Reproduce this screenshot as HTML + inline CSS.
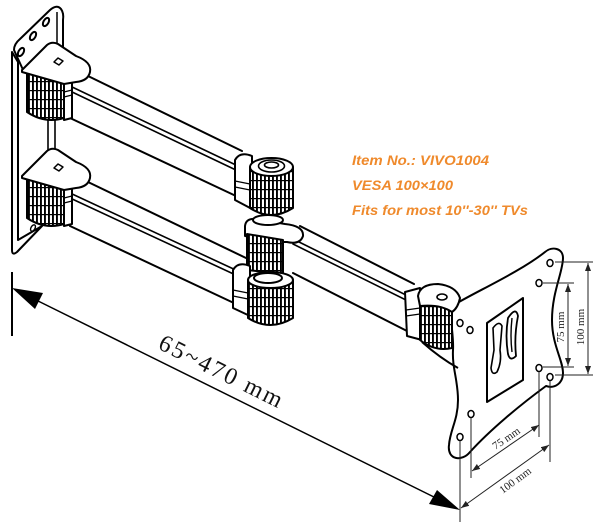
<!DOCTYPE html>
<html><head><meta charset="utf-8">
<style>
html,body{margin:0;padding:0;background:#fff;}
svg{display:block;}
</style></head><body>
<svg width="600" height="526" viewBox="0 0 600 526" xmlns="http://www.w3.org/2000/svg">
<defs>
<pattern id="k" patternUnits="userSpaceOnUse" width="4" height="9">
<rect width="4" height="9" fill="#fff"/>
<rect x="0" y="0" width="1.9" height="9" fill="#000"/>
<rect x="0" y="0" width="4" height="1.2" fill="#000"/>
</pattern>
<marker id="m" markerWidth="8" markerHeight="6" refX="8" refY="3" orient="auto-start-reverse" markerUnits="userSpaceOnUse">
<path d="M0,0 L8,3 L0,6 z" fill="#222"/>
</marker>
</defs>

<!-- main dimension -->
<line x1="12" y1="272" x2="12" y2="336" stroke="#000" stroke-width="2"/>
<line x1="30" y1="297" x2="440" y2="500" stroke="#000" stroke-width="1.5"/>
<polygon points="12,288 43,293 35,309" fill="#000"/>
<polygon points="460,510 437,490 429,504" fill="#000"/>
<text transform="translate(221,371) rotate(26.4)" x="0" y="8" text-anchor="middle" font-family="Liberation Serif, serif" font-size="24" textLength="135" lengthAdjust="spacing" fill="#111">65~470 mm</text>

<!-- arms fills -->
<g fill="#fff" stroke="none">
<path d="M70,80 L88,76 L242,151 L236,196 L70,118 Z"/>
<path d="M70,186 L88,182 L246,258 L236,304 L70,226 Z"/>
<path d="M293,232 L300,226 L414,284 L407,331 L293,273 Z"/>
</g>
<g stroke="#000" stroke-width="2" fill="none" stroke-linecap="round">
<path d="M88,76 L242,151"/>
<path d="M70,86 L238,166" stroke-width="1.6"/>
<path d="M70,91 L238,171" stroke-width="1.6"/>
<path d="M70,118 L236,196"/>
<path d="M88,182 L246,258"/>
<path d="M70,193 L240,272" stroke-width="1.6"/>
<path d="M70,198 L240,277" stroke-width="1.6"/>
<path d="M70,226 L236,304"/>
<path d="M300,226 L414,284"/>
<path d="M293,239 L410,297" stroke-width="1.6"/>
<path d="M293,244 L410,302" stroke-width="1.6"/>
<path d="M293,273 L407,331"/>
</g>

<!-- wall plate -->
<g stroke="#000" stroke-width="2" fill="#fff" stroke-linejoin="round">
<path d="M12,52 L12,250 Q12,256 17,252 L42,226 L18,240 L18,62 Z"/>
<path d="M14,50 Q14,44 20,39 L50,10 Q57,4 61,9 Q64,13 63,20 L63,48 L24,72 Z"/>
<ellipse cx="21" cy="52" rx="2.5" ry="4.5" transform="rotate(30 21 52)"/>
<ellipse cx="33" cy="36" rx="2.5" ry="4.5" transform="rotate(30 33 36)"/>
<ellipse cx="46" cy="22" rx="2.5" ry="4.5" transform="rotate(30 46 22)"/>
<line x1="57" y1="12" x2="57" y2="46" stroke-width="1.5"/>
<line x1="48" y1="118" x2="48" y2="154" stroke-width="1.6"/>
<line x1="55" y1="118" x2="55" y2="154" stroke-width="1.6"/>
<ellipse cx="33" cy="228" rx="2" ry="3.5" transform="rotate(30 33 228)" stroke-width="1.4"/>
</g>

<!-- wall brackets -->
<g id="wb" stroke="#000" stroke-width="2" stroke-linejoin="round">
<path d="M27,72 L27,112 Q45,124 64,118 L64,84 Z" fill="url(#k)"/>
<path d="M64,82 L72,80 L72,118 L64,120 Z" fill="#fff"/>
<line x1="64" y1="92" x2="72" y2="90" stroke-width="1.2"/>
<line x1="64" y1="97" x2="72" y2="95" stroke-width="1.2"/>
<path d="M22,70 L47,45 Q52,41 58,44 L76,56 Q92,62 90,72 Q88,81 76,82 L64,84 L22,72 Z" fill="#fff"/>
<polygon points="54,62 58,58 63,61 59,65" fill="#fff" stroke-width="1.5"/>
</g>
<use href="#wb" transform="translate(0,106)"/>

<!-- middle knob assembly -->
<g stroke="#000" stroke-width="2" stroke-linejoin="round">
<path d="M252,156 Q240,151 235,160 L235,200 L252,209 Z" fill="#fff"/>
<line x1="235" y1="181" x2="250" y2="184" stroke-width="1.2"/>
<line x1="235" y1="187" x2="250" y2="190" stroke-width="1.2"/>
<path d="M250,167 L250,208 Q271,222 293,208 L293,167 Z" fill="url(#k)"/>
<ellipse cx="271.5" cy="167" rx="21.5" ry="9" fill="#fff"/>
<ellipse cx="271.5" cy="166" rx="13" ry="6" fill="#fff" stroke-width="1.6"/>
<ellipse cx="271.5" cy="165" rx="7" ry="3" fill="#fff" stroke-width="1.6"/>
<path d="M245,226 Q246,218 256,219 L285,224 Q304,226 303,236 Q300,245 287,242 L283,242 L245,236 Z" fill="#fff"/>
<path d="M247,234 L247,270 L283,274 L283,240 Z" fill="url(#k)"/>
<ellipse cx="268" cy="220" rx="15" ry="5" fill="#fff"/>
<path d="M250,266 Q238,261 233,270 L233,308 L250,316 Z" fill="#fff"/>
<line x1="233" y1="290" x2="248" y2="293" stroke-width="1.2"/>
<line x1="233" y1="296" x2="248" y2="299" stroke-width="1.2"/>
<path d="M248,280 L248,318 Q270,332 293,318 L293,280 Z" fill="url(#k)"/>
<ellipse cx="270.5" cy="280" rx="22.5" ry="8" fill="#fff"/>
<ellipse cx="268" cy="278" rx="14" ry="5" fill="#fff"/>
</g>

<!-- VESA plate -->
<g stroke="#000" stroke-width="2" fill="#fff" stroke-linejoin="round">
<path d="M452,306 C475,292 520,272 545,252 C552,246 563,248 563,258 C563,272 552,292 552,320 C552,345 563,360 563,373 C563,383 555,389 546,386 C520,405 490,430 470,452 C462,462 447,460 449,445 C450,430 458,420 458,400 C458,380 452,368 453,350 C454,335 449,318 452,306 Z"/>
<polygon points="487,323 523,298 523,380 487,402"/>
<path d="M493,328 Q499,320 502,326 L500,350 Q502,362 497,372 Q492,376 491,368 L494,350 Z" fill="#fff" stroke-width="1.6"/>
<path d="M508,318 Q516,306 518,316 Q514,336 516,356 Q510,362 508,354 Q505,336 508,318 Z" fill="#fff" stroke-width="1.8"/>
<path d="M512,318 Q510,336 512,352" fill="none" stroke-width="1.4"/>
<g stroke-width="1.5">
<ellipse cx="550" cy="263" rx="3" ry="3.5"/>
<ellipse cx="539" cy="283" rx="3" ry="3.5"/>
<ellipse cx="460" cy="323" rx="3" ry="3.5"/>
<ellipse cx="470" cy="330" rx="3" ry="3.5"/>
<ellipse cx="539" cy="368" rx="3" ry="3.5"/>
<ellipse cx="550" cy="377" rx="3" ry="3.5"/>
<ellipse cx="471" cy="414" rx="3" ry="3.5"/>
<ellipse cx="460" cy="437" rx="3" ry="3.5"/>
</g>
</g>

<!-- plate knob -->
<g stroke="#000" stroke-width="2" stroke-linejoin="round">
<path d="M405,292 L420,288 L422,340 L407,336 Z" fill="#fff"/>
<line x1="406" y1="310" x2="420" y2="308" stroke-width="1.2"/>
<line x1="406" y1="316" x2="420" y2="314" stroke-width="1.2"/>
<path d="M420,302 L420,340 Q435,352 452,348 L452,306 Z" fill="url(#k)"/>
<path d="M418,296 Q420,284 438,284 Q456,286 460,298 Q458,308 452,312 Q440,304 420,306 Z" fill="#fff"/>
<ellipse cx="442" cy="297" rx="5" ry="3" fill="#fff" stroke-width="1.6"/>
<path d="M422,342 Q440,358 458,368" fill="none"/>
</g>

<!-- small dimensions -->
<g stroke="#222" stroke-width="1" fill="none">
<line x1="555" y1="262" x2="593" y2="262"/>
<line x1="543" y1="283" x2="574" y2="283"/>
<line x1="543" y1="367" x2="574" y2="367"/>
<line x1="555" y1="375" x2="593" y2="375"/>
<line x1="588" y1="263" x2="588" y2="374" marker-start="url(#m)" marker-end="url(#m)"/>
<line x1="568" y1="284" x2="568" y2="366" marker-start="url(#m)" marker-end="url(#m)"/>
<line x1="471" y1="418" x2="471" y2="478"/>
<line x1="460" y1="441" x2="460" y2="522"/>
<line x1="539" y1="372" x2="539" y2="437"/>
<line x1="550" y1="381" x2="550" y2="462"/>
<line x1="472" y1="471" x2="539" y2="425" marker-start="url(#m)" marker-end="url(#m)"/>
<line x1="461" y1="508" x2="549" y2="445" marker-start="url(#m)" marker-end="url(#m)"/>
</g>
<g font-family="Liberation Serif, serif" font-size="11" fill="#222" text-anchor="middle">
<text transform="translate(560,327) rotate(-90)" x="0" y="4">75 mm</text>
<text transform="translate(580,327) rotate(-90)" x="0" y="4">100 mm</text>
<text transform="translate(506,438) rotate(-34.5)" x="0" y="4">75 mm</text>
<text transform="translate(515,480) rotate(-36.2)" x="0" y="4">100 mm</text>
</g>

<!-- orange text -->
<g font-family="Liberation Sans, sans-serif" font-weight="bold" font-style="italic" font-size="13.5" fill="#EF8A2C">
<text x="352" y="165" textLength="137" lengthAdjust="spacingAndGlyphs">Item No.: VIVO1004</text>
<text x="352" y="190" textLength="101" lengthAdjust="spacingAndGlyphs">VESA 100×100</text>
<text x="352" y="215" textLength="176" lengthAdjust="spacingAndGlyphs">Fits for most 10''-30'' TVs</text>
</g>
</svg>
</body></html>
